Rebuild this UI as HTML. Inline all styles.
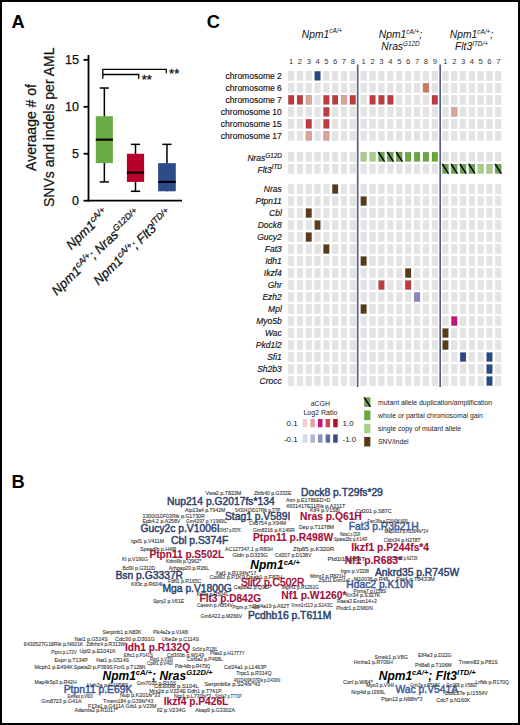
<!DOCTYPE html>
<html><head><meta charset="utf-8"><style>
html,body{margin:0;padding:0;background:#fff;}
svg{display:block;font-family:"Liberation Sans", sans-serif;}
</style></head><body>
<svg width="520" height="725" viewBox="0 0 520 725">
<rect x="0" y="0" width="520" height="725" fill="#fff"/>

<text x="11.6" y="27.6" font-size="18.3" font-weight="700" fill="#000">A</text>
<g stroke="#000" stroke-width="1.8" fill="none">
<line x1="88.5" y1="55" x2="88.5" y2="201.5"/>
<line x1="87.6" y1="200.7" x2="182" y2="200.7"/>
<line x1="83.5" y1="200.70" x2="88.5" y2="200.70"/>
<line x1="83.5" y1="153.75" x2="88.5" y2="153.75"/>
<line x1="83.5" y1="106.80" x2="88.5" y2="106.80"/>
<line x1="83.5" y1="59.85" x2="88.5" y2="59.85"/>
</g>
<text x="79" y="205.30" font-size="12.5" text-anchor="end" fill="#111" stroke="#111" stroke-width="0.25">0</text>
<text x="79" y="158.35" font-size="12.5" text-anchor="end" fill="#111" stroke="#111" stroke-width="0.25">5</text>
<text x="79" y="111.40" font-size="12.5" text-anchor="end" fill="#111" stroke="#111" stroke-width="0.25">10</text>
<text x="79" y="64.45" font-size="12.5" text-anchor="end" fill="#111" stroke="#111" stroke-width="0.25">15</text>
<g transform="translate(35.6,127.5) rotate(-90)"><text x="0" y="0" font-size="15.3" text-anchor="middle" fill="#111" stroke="#111" stroke-width="0.25" transform="scale(0.915,1)">Averaage # of</text></g>
<g transform="translate(54,127.3) rotate(-90)"><text x="0" y="0" font-size="15.3" text-anchor="middle" fill="#111" stroke="#111" stroke-width="0.25" transform="scale(0.915,1)">SNVs and indels per AML</text></g>
<line x1="104.35" y1="88.02" x2="104.35" y2="181.92" stroke="#000" stroke-width="1.5"/>
<line x1="99.75" y1="181.92" x2="108.95" y2="181.92" stroke="#000" stroke-width="1.5"/>
<line x1="99.75" y1="88.02" x2="108.95" y2="88.02" stroke="#000" stroke-width="1.5"/>
<rect x="95.8" y="116.19" width="17.10" height="46.95" fill="#6aab45"/>
<line x1="95.8" y1="139.66" x2="112.9" y2="139.66" stroke="#000" stroke-width="2.2"/>
<line x1="135.50" y1="144.36" x2="135.50" y2="191.31" stroke="#000" stroke-width="1.5"/>
<line x1="130.90" y1="191.31" x2="140.10" y2="191.31" stroke="#000" stroke-width="1.5"/>
<line x1="130.90" y1="144.36" x2="140.10" y2="144.36" stroke="#000" stroke-width="1.5"/>
<rect x="126.9" y="153.75" width="17.20" height="28.17" fill="#b7002b"/>
<line x1="126.9" y1="172.53" x2="144.1" y2="172.53" stroke="#000" stroke-width="2.2"/>
<line x1="166.95" y1="144.36" x2="166.95" y2="191.31" stroke="#000" stroke-width="1.5"/>
<line x1="162.35" y1="144.36" x2="171.55" y2="144.36" stroke="#000" stroke-width="1.5"/>
<rect x="158.1" y="163.14" width="17.70" height="28.17" fill="#2e4c8a"/>
<line x1="158.1" y1="181.92" x2="175.8" y2="181.92" stroke="#000" stroke-width="2.2"/>
<g stroke="#000" stroke-width="1.3" fill="none">
<polyline points="102.8,78.8 102.8,69.3 166.3,69.3 166.3,73.2"/>
<polyline points="102.8,74.5 138.7,74.5 138.7,78.8"/>
</g>
<text x="141.8" y="83.6" font-size="13" fill="#111" stroke="#111" stroke-width="0.3">**</text>
<text x="169.1" y="78.2" font-size="13" fill="#111" stroke="#111" stroke-width="0.3">**</text>
<g transform="translate(109,214) rotate(-44)"><text x="0" y="0" font-size="13" font-style="italic" text-anchor="end" fill="#111" stroke="#111" stroke-width="0.25">Npm1<tspan font-size="8.7" dy="-4.8">cA/+</tspan></text></g>
<g transform="translate(141,214.5) rotate(-44)"><text x="0" y="0" font-size="13" font-style="italic" text-anchor="end" fill="#111" stroke="#111" stroke-width="0.25">Npm1<tspan font-size="8.7" dy="-4.8">cA/+</tspan><tspan dy="4.8">; Nras</tspan><tspan font-size="8.7" dy="-4.8">G12D/+</tspan></text></g>
<g transform="translate(172.5,214.5) rotate(-44)"><text x="0" y="0" font-size="13" font-style="italic" text-anchor="end" fill="#111" stroke="#111" stroke-width="0.25">Npm1<tspan font-size="8.7" dy="-4.8">cA/+</tspan><tspan dy="4.8">; Flt3</tspan><tspan font-size="8.7" dy="-4.8">ITD/+</tspan></text></g>
<text x="206.8" y="27.6" font-size="18.3" font-weight="700" fill="#000">C</text>
<g>
<rect x="288.00" y="71.00" width="6.3" height="9.7" fill="#e3e3e3"/>
<rect x="296.80" y="71.00" width="6.3" height="9.7" fill="#e3e3e3"/>
<rect x="305.60" y="71.00" width="6.3" height="9.7" fill="#e3e3e3"/>
<rect x="314.70" y="71.30" width="5.70" height="9.10" fill="#254a87" stroke="rgba(0,0,0,0.22)" stroke-width="0.6"/>
<rect x="323.20" y="71.00" width="6.3" height="9.7" fill="#e3e3e3"/>
<rect x="332.00" y="71.00" width="6.3" height="9.7" fill="#e3e3e3"/>
<rect x="340.80" y="71.00" width="6.3" height="9.7" fill="#e3e3e3"/>
<rect x="349.60" y="71.00" width="6.3" height="9.7" fill="#e3e3e3"/>
<rect x="360.50" y="71.00" width="6.3" height="9.7" fill="#e3e3e3"/>
<rect x="369.40" y="71.00" width="6.3" height="9.7" fill="#e3e3e3"/>
<rect x="378.30" y="71.00" width="6.3" height="9.7" fill="#e3e3e3"/>
<rect x="387.20" y="71.00" width="6.3" height="9.7" fill="#e3e3e3"/>
<rect x="396.10" y="71.00" width="6.3" height="9.7" fill="#e3e3e3"/>
<rect x="405.00" y="71.00" width="6.3" height="9.7" fill="#e3e3e3"/>
<rect x="413.90" y="71.00" width="6.3" height="9.7" fill="#e3e3e3"/>
<rect x="422.80" y="71.00" width="6.3" height="9.7" fill="#e3e3e3"/>
<rect x="431.70" y="71.00" width="6.3" height="9.7" fill="#e3e3e3"/>
<rect x="442.30" y="71.00" width="6.3" height="9.7" fill="#e3e3e3"/>
<rect x="451.10" y="71.00" width="6.3" height="9.7" fill="#e3e3e3"/>
<rect x="459.90" y="71.00" width="6.3" height="9.7" fill="#e3e3e3"/>
<rect x="468.70" y="71.00" width="6.3" height="9.7" fill="#e3e3e3"/>
<rect x="477.50" y="71.00" width="6.3" height="9.7" fill="#e3e3e3"/>
<rect x="486.30" y="71.00" width="6.3" height="9.7" fill="#e3e3e3"/>
<rect x="495.10" y="71.00" width="6.3" height="9.7" fill="#e3e3e3"/>
<rect x="288.00" y="83.00" width="6.3" height="9.7" fill="#e3e3e3"/>
<rect x="296.80" y="83.00" width="6.3" height="9.7" fill="#e3e3e3"/>
<rect x="305.60" y="83.00" width="6.3" height="9.7" fill="#e3e3e3"/>
<rect x="314.40" y="83.00" width="6.3" height="9.7" fill="#e3e3e3"/>
<rect x="323.20" y="83.00" width="6.3" height="9.7" fill="#e3e3e3"/>
<rect x="332.00" y="83.00" width="6.3" height="9.7" fill="#e3e3e3"/>
<rect x="340.80" y="83.00" width="6.3" height="9.7" fill="#e3e3e3"/>
<rect x="349.60" y="83.00" width="6.3" height="9.7" fill="#e3e3e3"/>
<rect x="360.50" y="83.00" width="6.3" height="9.7" fill="#e3e3e3"/>
<rect x="369.40" y="83.00" width="6.3" height="9.7" fill="#e3e3e3"/>
<rect x="378.30" y="83.00" width="6.3" height="9.7" fill="#e3e3e3"/>
<rect x="387.20" y="83.00" width="6.3" height="9.7" fill="#e3e3e3"/>
<rect x="396.10" y="83.00" width="6.3" height="9.7" fill="#e3e3e3"/>
<rect x="405.00" y="83.00" width="6.3" height="9.7" fill="#e3e3e3"/>
<rect x="413.90" y="83.00" width="6.3" height="9.7" fill="#e3e3e3"/>
<rect x="423.10" y="83.30" width="5.70" height="9.10" fill="#d2765f" stroke="rgba(0,0,0,0.22)" stroke-width="0.6"/>
<rect x="431.70" y="83.00" width="6.3" height="9.7" fill="#e3e3e3"/>
<rect x="442.30" y="83.00" width="6.3" height="9.7" fill="#e3e3e3"/>
<rect x="451.10" y="83.00" width="6.3" height="9.7" fill="#e3e3e3"/>
<rect x="459.90" y="83.00" width="6.3" height="9.7" fill="#e3e3e3"/>
<rect x="468.70" y="83.00" width="6.3" height="9.7" fill="#e3e3e3"/>
<rect x="477.50" y="83.00" width="6.3" height="9.7" fill="#e3e3e3"/>
<rect x="486.30" y="83.00" width="6.3" height="9.7" fill="#e3e3e3"/>
<rect x="495.10" y="83.00" width="6.3" height="9.7" fill="#e3e3e3"/>
<rect x="288.30" y="95.30" width="5.70" height="9.10" fill="#c13a3d" stroke="rgba(0,0,0,0.22)" stroke-width="0.6"/>
<rect x="297.10" y="95.30" width="5.70" height="9.10" fill="#c13a3d" stroke="rgba(0,0,0,0.22)" stroke-width="0.6"/>
<rect x="305.90" y="95.30" width="5.70" height="9.10" fill="#daa496" stroke="rgba(0,0,0,0.22)" stroke-width="0.6"/>
<rect x="314.40" y="95.00" width="6.3" height="9.7" fill="#e3e3e3"/>
<rect x="323.50" y="95.30" width="5.70" height="9.10" fill="#c13a3d" stroke="rgba(0,0,0,0.22)" stroke-width="0.6"/>
<rect x="332.30" y="95.30" width="5.70" height="9.10" fill="#c13a3d" stroke="rgba(0,0,0,0.22)" stroke-width="0.6"/>
<rect x="341.10" y="95.30" width="5.70" height="9.10" fill="#daa496" stroke="rgba(0,0,0,0.22)" stroke-width="0.6"/>
<rect x="349.90" y="95.30" width="5.70" height="9.10" fill="#c13a3d" stroke="rgba(0,0,0,0.22)" stroke-width="0.6"/>
<rect x="360.50" y="95.00" width="6.3" height="9.7" fill="#e3e3e3"/>
<rect x="369.70" y="95.30" width="5.70" height="9.10" fill="#c13a3d" stroke="rgba(0,0,0,0.22)" stroke-width="0.6"/>
<rect x="378.60" y="95.30" width="5.70" height="9.10" fill="#c13a3d" stroke="rgba(0,0,0,0.22)" stroke-width="0.6"/>
<rect x="387.50" y="95.30" width="5.70" height="9.10" fill="#c13a3d" stroke="rgba(0,0,0,0.22)" stroke-width="0.6"/>
<rect x="396.10" y="95.00" width="6.3" height="9.7" fill="#e3e3e3"/>
<rect x="405.00" y="95.00" width="6.3" height="9.7" fill="#e3e3e3"/>
<rect x="413.90" y="95.00" width="6.3" height="9.7" fill="#e3e3e3"/>
<rect x="422.80" y="95.00" width="6.3" height="9.7" fill="#e3e3e3"/>
<rect x="432.00" y="95.30" width="5.70" height="9.10" fill="#c13a3d" stroke="rgba(0,0,0,0.22)" stroke-width="0.6"/>
<rect x="442.30" y="95.00" width="6.3" height="9.7" fill="#e3e3e3"/>
<rect x="451.10" y="95.00" width="6.3" height="9.7" fill="#e3e3e3"/>
<rect x="459.90" y="95.00" width="6.3" height="9.7" fill="#e3e3e3"/>
<rect x="468.70" y="95.00" width="6.3" height="9.7" fill="#e3e3e3"/>
<rect x="477.50" y="95.00" width="6.3" height="9.7" fill="#e3e3e3"/>
<rect x="486.30" y="95.00" width="6.3" height="9.7" fill="#e3e3e3"/>
<rect x="495.10" y="95.00" width="6.3" height="9.7" fill="#e3e3e3"/>
<rect x="288.00" y="107.00" width="6.3" height="9.7" fill="#e3e3e3"/>
<rect x="296.80" y="107.00" width="6.3" height="9.7" fill="#e3e3e3"/>
<rect x="305.60" y="107.00" width="6.3" height="9.7" fill="#e3e3e3"/>
<rect x="314.40" y="107.00" width="6.3" height="9.7" fill="#e3e3e3"/>
<rect x="323.50" y="107.30" width="5.70" height="9.10" fill="#c13a3d" stroke="rgba(0,0,0,0.22)" stroke-width="0.6"/>
<rect x="332.00" y="107.00" width="6.3" height="9.7" fill="#e3e3e3"/>
<rect x="340.80" y="107.00" width="6.3" height="9.7" fill="#e3e3e3"/>
<rect x="349.60" y="107.00" width="6.3" height="9.7" fill="#e3e3e3"/>
<rect x="360.50" y="107.00" width="6.3" height="9.7" fill="#e3e3e3"/>
<rect x="369.40" y="107.00" width="6.3" height="9.7" fill="#e3e3e3"/>
<rect x="378.30" y="107.00" width="6.3" height="9.7" fill="#e3e3e3"/>
<rect x="387.20" y="107.00" width="6.3" height="9.7" fill="#e3e3e3"/>
<rect x="396.10" y="107.00" width="6.3" height="9.7" fill="#e3e3e3"/>
<rect x="405.00" y="107.00" width="6.3" height="9.7" fill="#e3e3e3"/>
<rect x="413.90" y="107.00" width="6.3" height="9.7" fill="#e3e3e3"/>
<rect x="422.80" y="107.00" width="6.3" height="9.7" fill="#e3e3e3"/>
<rect x="431.70" y="107.00" width="6.3" height="9.7" fill="#e3e3e3"/>
<rect x="442.30" y="107.00" width="6.3" height="9.7" fill="#e3e3e3"/>
<rect x="451.40" y="107.30" width="5.70" height="9.10" fill="#daa496" stroke="rgba(0,0,0,0.22)" stroke-width="0.6"/>
<rect x="459.90" y="107.00" width="6.3" height="9.7" fill="#e3e3e3"/>
<rect x="468.70" y="107.00" width="6.3" height="9.7" fill="#e3e3e3"/>
<rect x="477.50" y="107.00" width="6.3" height="9.7" fill="#e3e3e3"/>
<rect x="486.30" y="107.00" width="6.3" height="9.7" fill="#e3e3e3"/>
<rect x="495.10" y="107.00" width="6.3" height="9.7" fill="#e3e3e3"/>
<rect x="288.00" y="119.00" width="6.3" height="9.7" fill="#e3e3e3"/>
<rect x="296.80" y="119.00" width="6.3" height="9.7" fill="#e3e3e3"/>
<rect x="305.90" y="119.30" width="5.70" height="9.10" fill="#c13a3d" stroke="rgba(0,0,0,0.22)" stroke-width="0.6"/>
<rect x="314.40" y="119.00" width="6.3" height="9.7" fill="#e3e3e3"/>
<rect x="323.50" y="119.30" width="5.70" height="9.10" fill="#c13a3d" stroke="rgba(0,0,0,0.22)" stroke-width="0.6"/>
<rect x="332.00" y="119.00" width="6.3" height="9.7" fill="#e3e3e3"/>
<rect x="340.80" y="119.00" width="6.3" height="9.7" fill="#e3e3e3"/>
<rect x="349.60" y="119.00" width="6.3" height="9.7" fill="#e3e3e3"/>
<rect x="360.50" y="119.00" width="6.3" height="9.7" fill="#e3e3e3"/>
<rect x="369.40" y="119.00" width="6.3" height="9.7" fill="#e3e3e3"/>
<rect x="378.30" y="119.00" width="6.3" height="9.7" fill="#e3e3e3"/>
<rect x="387.20" y="119.00" width="6.3" height="9.7" fill="#e3e3e3"/>
<rect x="396.10" y="119.00" width="6.3" height="9.7" fill="#e3e3e3"/>
<rect x="405.00" y="119.00" width="6.3" height="9.7" fill="#e3e3e3"/>
<rect x="413.90" y="119.00" width="6.3" height="9.7" fill="#e3e3e3"/>
<rect x="422.80" y="119.00" width="6.3" height="9.7" fill="#e3e3e3"/>
<rect x="431.70" y="119.00" width="6.3" height="9.7" fill="#e3e3e3"/>
<rect x="442.30" y="119.00" width="6.3" height="9.7" fill="#e3e3e3"/>
<rect x="451.10" y="119.00" width="6.3" height="9.7" fill="#e3e3e3"/>
<rect x="459.90" y="119.00" width="6.3" height="9.7" fill="#e3e3e3"/>
<rect x="468.70" y="119.00" width="6.3" height="9.7" fill="#e3e3e3"/>
<rect x="477.50" y="119.00" width="6.3" height="9.7" fill="#e3e3e3"/>
<rect x="486.30" y="119.00" width="6.3" height="9.7" fill="#e3e3e3"/>
<rect x="495.10" y="119.00" width="6.3" height="9.7" fill="#e3e3e3"/>
<rect x="288.00" y="131.00" width="6.3" height="9.7" fill="#e3e3e3"/>
<rect x="296.80" y="131.00" width="6.3" height="9.7" fill="#e3e3e3"/>
<rect x="305.90" y="131.30" width="5.70" height="9.10" fill="#daa496" stroke="rgba(0,0,0,0.22)" stroke-width="0.6"/>
<rect x="314.40" y="131.00" width="6.3" height="9.7" fill="#e3e3e3"/>
<rect x="323.50" y="131.30" width="5.70" height="9.10" fill="#daa496" stroke="rgba(0,0,0,0.22)" stroke-width="0.6"/>
<rect x="332.00" y="131.00" width="6.3" height="9.7" fill="#e3e3e3"/>
<rect x="340.80" y="131.00" width="6.3" height="9.7" fill="#e3e3e3"/>
<rect x="349.60" y="131.00" width="6.3" height="9.7" fill="#e3e3e3"/>
<rect x="360.50" y="131.00" width="6.3" height="9.7" fill="#e3e3e3"/>
<rect x="369.40" y="131.00" width="6.3" height="9.7" fill="#e3e3e3"/>
<rect x="378.30" y="131.00" width="6.3" height="9.7" fill="#e3e3e3"/>
<rect x="387.20" y="131.00" width="6.3" height="9.7" fill="#e3e3e3"/>
<rect x="396.10" y="131.00" width="6.3" height="9.7" fill="#e3e3e3"/>
<rect x="405.00" y="131.00" width="6.3" height="9.7" fill="#e3e3e3"/>
<rect x="413.90" y="131.00" width="6.3" height="9.7" fill="#e3e3e3"/>
<rect x="422.80" y="131.00" width="6.3" height="9.7" fill="#e3e3e3"/>
<rect x="431.70" y="131.00" width="6.3" height="9.7" fill="#e3e3e3"/>
<rect x="442.30" y="131.00" width="6.3" height="9.7" fill="#e3e3e3"/>
<rect x="451.10" y="131.00" width="6.3" height="9.7" fill="#e3e3e3"/>
<rect x="459.90" y="131.00" width="6.3" height="9.7" fill="#e3e3e3"/>
<rect x="468.70" y="131.00" width="6.3" height="9.7" fill="#e3e3e3"/>
<rect x="477.50" y="131.00" width="6.3" height="9.7" fill="#e3e3e3"/>
<rect x="486.30" y="131.00" width="6.3" height="9.7" fill="#e3e3e3"/>
<rect x="495.10" y="131.00" width="6.3" height="9.7" fill="#e3e3e3"/>
<rect x="288.00" y="152.00" width="6.3" height="9.7" fill="#e3e3e3"/>
<rect x="296.80" y="152.00" width="6.3" height="9.7" fill="#e3e3e3"/>
<rect x="305.60" y="152.00" width="6.3" height="9.7" fill="#e3e3e3"/>
<rect x="314.40" y="152.00" width="6.3" height="9.7" fill="#e3e3e3"/>
<rect x="323.20" y="152.00" width="6.3" height="9.7" fill="#e3e3e3"/>
<rect x="332.00" y="152.00" width="6.3" height="9.7" fill="#e3e3e3"/>
<rect x="340.80" y="152.00" width="6.3" height="9.7" fill="#e3e3e3"/>
<rect x="349.60" y="152.00" width="6.3" height="9.7" fill="#e3e3e3"/>
<rect x="360.80" y="152.30" width="5.70" height="9.10" fill="#a9cf84" stroke="rgba(0,0,0,0.22)" stroke-width="0.6"/>
<rect x="369.70" y="152.30" width="5.70" height="9.10" fill="#a9cf84" stroke="rgba(0,0,0,0.22)" stroke-width="0.6"/>
<rect x="378.30" y="152.00" width="6.3" height="9.7" fill="#6e9f55"/>
<line x1="378.30" y1="152.00" x2="384.60" y2="161.70" stroke="#000" stroke-width="1.4"/>
<rect x="387.20" y="152.00" width="6.3" height="9.7" fill="#6e9f55"/>
<line x1="387.20" y1="152.00" x2="393.50" y2="161.70" stroke="#000" stroke-width="1.4"/>
<rect x="396.10" y="152.00" width="6.3" height="9.7" fill="#6e9f55"/>
<line x1="396.10" y1="152.00" x2="402.40" y2="161.70" stroke="#000" stroke-width="1.4"/>
<rect x="405.30" y="152.30" width="5.70" height="9.10" fill="#68a83d" stroke="rgba(0,0,0,0.22)" stroke-width="0.6"/>
<rect x="414.20" y="152.30" width="5.70" height="9.10" fill="#68a83d" stroke="rgba(0,0,0,0.22)" stroke-width="0.6"/>
<rect x="423.10" y="152.30" width="5.70" height="9.10" fill="#68a83d" stroke="rgba(0,0,0,0.22)" stroke-width="0.6"/>
<rect x="432.00" y="152.30" width="5.70" height="9.10" fill="#68a83d" stroke="rgba(0,0,0,0.22)" stroke-width="0.6"/>
<rect x="442.30" y="152.00" width="6.3" height="9.7" fill="#e3e3e3"/>
<rect x="451.10" y="152.00" width="6.3" height="9.7" fill="#e3e3e3"/>
<rect x="459.90" y="152.00" width="6.3" height="9.7" fill="#e3e3e3"/>
<rect x="468.70" y="152.00" width="6.3" height="9.7" fill="#e3e3e3"/>
<rect x="477.50" y="152.00" width="6.3" height="9.7" fill="#e3e3e3"/>
<rect x="486.30" y="152.00" width="6.3" height="9.7" fill="#e3e3e3"/>
<rect x="495.10" y="152.00" width="6.3" height="9.7" fill="#e3e3e3"/>
<rect x="288.00" y="164.00" width="6.3" height="9.7" fill="#e3e3e3"/>
<rect x="296.80" y="164.00" width="6.3" height="9.7" fill="#e3e3e3"/>
<rect x="305.60" y="164.00" width="6.3" height="9.7" fill="#e3e3e3"/>
<rect x="314.40" y="164.00" width="6.3" height="9.7" fill="#e3e3e3"/>
<rect x="323.20" y="164.00" width="6.3" height="9.7" fill="#e3e3e3"/>
<rect x="332.00" y="164.00" width="6.3" height="9.7" fill="#e3e3e3"/>
<rect x="340.80" y="164.00" width="6.3" height="9.7" fill="#e3e3e3"/>
<rect x="349.60" y="164.00" width="6.3" height="9.7" fill="#e3e3e3"/>
<rect x="360.50" y="164.00" width="6.3" height="9.7" fill="#e3e3e3"/>
<rect x="369.40" y="164.00" width="6.3" height="9.7" fill="#e3e3e3"/>
<rect x="378.30" y="164.00" width="6.3" height="9.7" fill="#e3e3e3"/>
<rect x="387.20" y="164.00" width="6.3" height="9.7" fill="#e3e3e3"/>
<rect x="396.10" y="164.00" width="6.3" height="9.7" fill="#e3e3e3"/>
<rect x="405.00" y="164.00" width="6.3" height="9.7" fill="#e3e3e3"/>
<rect x="413.90" y="164.00" width="6.3" height="9.7" fill="#e3e3e3"/>
<rect x="422.80" y="164.00" width="6.3" height="9.7" fill="#e3e3e3"/>
<rect x="431.70" y="164.00" width="6.3" height="9.7" fill="#e3e3e3"/>
<rect x="442.30" y="164.00" width="6.3" height="9.7" fill="#6e9f55"/>
<line x1="442.30" y1="164.00" x2="448.60" y2="173.70" stroke="#000" stroke-width="1.4"/>
<rect x="451.10" y="164.00" width="6.3" height="9.7" fill="#6e9f55"/>
<line x1="451.10" y1="164.00" x2="457.40" y2="173.70" stroke="#000" stroke-width="1.4"/>
<rect x="459.90" y="164.00" width="6.3" height="9.7" fill="#6e9f55"/>
<line x1="459.90" y1="164.00" x2="466.20" y2="173.70" stroke="#000" stroke-width="1.4"/>
<rect x="468.70" y="164.00" width="6.3" height="9.7" fill="#6e9f55"/>
<line x1="468.70" y1="164.00" x2="475.00" y2="173.70" stroke="#000" stroke-width="1.4"/>
<rect x="477.80" y="164.30" width="5.70" height="9.10" fill="#a9cf84" stroke="rgba(0,0,0,0.22)" stroke-width="0.6"/>
<rect x="486.60" y="164.30" width="5.70" height="9.10" fill="#a9cf84" stroke="rgba(0,0,0,0.22)" stroke-width="0.6"/>
<rect x="495.10" y="164.00" width="6.3" height="9.7" fill="#6e9f55"/>
<line x1="495.10" y1="164.00" x2="501.40" y2="173.70" stroke="#000" stroke-width="1.4"/>
<rect x="288.00" y="184.20" width="6.3" height="9.7" fill="#e3e3e3"/>
<rect x="296.80" y="184.20" width="6.3" height="9.7" fill="#e3e3e3"/>
<rect x="305.60" y="184.20" width="6.3" height="9.7" fill="#e3e3e3"/>
<rect x="314.40" y="184.20" width="6.3" height="9.7" fill="#e3e3e3"/>
<rect x="323.20" y="184.20" width="6.3" height="9.7" fill="#e3e3e3"/>
<rect x="332.30" y="184.50" width="5.70" height="9.10" fill="#5a3b16" stroke="rgba(0,0,0,0.22)" stroke-width="0.6"/>
<rect x="340.80" y="184.20" width="6.3" height="9.7" fill="#e3e3e3"/>
<rect x="349.60" y="184.20" width="6.3" height="9.7" fill="#e3e3e3"/>
<rect x="360.50" y="184.20" width="6.3" height="9.7" fill="#e3e3e3"/>
<rect x="369.40" y="184.20" width="6.3" height="9.7" fill="#e3e3e3"/>
<rect x="378.30" y="184.20" width="6.3" height="9.7" fill="#e3e3e3"/>
<rect x="387.20" y="184.20" width="6.3" height="9.7" fill="#e3e3e3"/>
<rect x="396.10" y="184.20" width="6.3" height="9.7" fill="#e3e3e3"/>
<rect x="405.00" y="184.20" width="6.3" height="9.7" fill="#e3e3e3"/>
<rect x="413.90" y="184.20" width="6.3" height="9.7" fill="#e3e3e3"/>
<rect x="422.80" y="184.20" width="6.3" height="9.7" fill="#e3e3e3"/>
<rect x="431.70" y="184.20" width="6.3" height="9.7" fill="#e3e3e3"/>
<rect x="442.30" y="184.20" width="6.3" height="9.7" fill="#e3e3e3"/>
<rect x="451.10" y="184.20" width="6.3" height="9.7" fill="#e3e3e3"/>
<rect x="459.90" y="184.20" width="6.3" height="9.7" fill="#e3e3e3"/>
<rect x="468.70" y="184.20" width="6.3" height="9.7" fill="#e3e3e3"/>
<rect x="477.50" y="184.20" width="6.3" height="9.7" fill="#e3e3e3"/>
<rect x="486.30" y="184.20" width="6.3" height="9.7" fill="#e3e3e3"/>
<rect x="495.10" y="184.20" width="6.3" height="9.7" fill="#e3e3e3"/>
<rect x="288.00" y="196.20" width="6.3" height="9.7" fill="#e3e3e3"/>
<rect x="296.80" y="196.20" width="6.3" height="9.7" fill="#e3e3e3"/>
<rect x="305.60" y="196.20" width="6.3" height="9.7" fill="#e3e3e3"/>
<rect x="314.40" y="196.20" width="6.3" height="9.7" fill="#e3e3e3"/>
<rect x="323.20" y="196.20" width="6.3" height="9.7" fill="#e3e3e3"/>
<rect x="332.00" y="196.20" width="6.3" height="9.7" fill="#e3e3e3"/>
<rect x="340.80" y="196.20" width="6.3" height="9.7" fill="#e3e3e3"/>
<rect x="349.60" y="196.20" width="6.3" height="9.7" fill="#e3e3e3"/>
<rect x="360.80" y="196.50" width="5.70" height="9.10" fill="#5a3b16" stroke="rgba(0,0,0,0.22)" stroke-width="0.6"/>
<rect x="369.40" y="196.20" width="6.3" height="9.7" fill="#e3e3e3"/>
<rect x="378.30" y="196.20" width="6.3" height="9.7" fill="#e3e3e3"/>
<rect x="387.20" y="196.20" width="6.3" height="9.7" fill="#e3e3e3"/>
<rect x="396.10" y="196.20" width="6.3" height="9.7" fill="#e3e3e3"/>
<rect x="405.00" y="196.20" width="6.3" height="9.7" fill="#e3e3e3"/>
<rect x="413.90" y="196.20" width="6.3" height="9.7" fill="#e3e3e3"/>
<rect x="422.80" y="196.20" width="6.3" height="9.7" fill="#e3e3e3"/>
<rect x="431.70" y="196.20" width="6.3" height="9.7" fill="#e3e3e3"/>
<rect x="442.30" y="196.20" width="6.3" height="9.7" fill="#e3e3e3"/>
<rect x="451.10" y="196.20" width="6.3" height="9.7" fill="#e3e3e3"/>
<rect x="459.90" y="196.20" width="6.3" height="9.7" fill="#e3e3e3"/>
<rect x="468.70" y="196.20" width="6.3" height="9.7" fill="#e3e3e3"/>
<rect x="477.50" y="196.20" width="6.3" height="9.7" fill="#e3e3e3"/>
<rect x="486.30" y="196.20" width="6.3" height="9.7" fill="#e3e3e3"/>
<rect x="495.10" y="196.20" width="6.3" height="9.7" fill="#e3e3e3"/>
<rect x="288.00" y="208.20" width="6.3" height="9.7" fill="#e3e3e3"/>
<rect x="296.80" y="208.20" width="6.3" height="9.7" fill="#e3e3e3"/>
<rect x="305.90" y="208.50" width="5.70" height="9.10" fill="#5a3b16" stroke="rgba(0,0,0,0.22)" stroke-width="0.6"/>
<rect x="314.40" y="208.20" width="6.3" height="9.7" fill="#e3e3e3"/>
<rect x="323.20" y="208.20" width="6.3" height="9.7" fill="#e3e3e3"/>
<rect x="332.00" y="208.20" width="6.3" height="9.7" fill="#e3e3e3"/>
<rect x="340.80" y="208.20" width="6.3" height="9.7" fill="#e3e3e3"/>
<rect x="349.60" y="208.20" width="6.3" height="9.7" fill="#e3e3e3"/>
<rect x="360.50" y="208.20" width="6.3" height="9.7" fill="#e3e3e3"/>
<rect x="369.40" y="208.20" width="6.3" height="9.7" fill="#e3e3e3"/>
<rect x="378.30" y="208.20" width="6.3" height="9.7" fill="#e3e3e3"/>
<rect x="387.20" y="208.20" width="6.3" height="9.7" fill="#e3e3e3"/>
<rect x="396.10" y="208.20" width="6.3" height="9.7" fill="#e3e3e3"/>
<rect x="405.00" y="208.20" width="6.3" height="9.7" fill="#e3e3e3"/>
<rect x="413.90" y="208.20" width="6.3" height="9.7" fill="#e3e3e3"/>
<rect x="422.80" y="208.20" width="6.3" height="9.7" fill="#e3e3e3"/>
<rect x="431.70" y="208.20" width="6.3" height="9.7" fill="#e3e3e3"/>
<rect x="442.30" y="208.20" width="6.3" height="9.7" fill="#e3e3e3"/>
<rect x="451.10" y="208.20" width="6.3" height="9.7" fill="#e3e3e3"/>
<rect x="459.90" y="208.20" width="6.3" height="9.7" fill="#e3e3e3"/>
<rect x="468.70" y="208.20" width="6.3" height="9.7" fill="#e3e3e3"/>
<rect x="477.50" y="208.20" width="6.3" height="9.7" fill="#e3e3e3"/>
<rect x="486.30" y="208.20" width="6.3" height="9.7" fill="#e3e3e3"/>
<rect x="495.10" y="208.20" width="6.3" height="9.7" fill="#e3e3e3"/>
<rect x="288.00" y="220.20" width="6.3" height="9.7" fill="#e3e3e3"/>
<rect x="296.80" y="220.20" width="6.3" height="9.7" fill="#e3e3e3"/>
<rect x="305.60" y="220.20" width="6.3" height="9.7" fill="#e3e3e3"/>
<rect x="314.70" y="220.50" width="5.70" height="9.10" fill="#5a3b16" stroke="rgba(0,0,0,0.22)" stroke-width="0.6"/>
<rect x="323.20" y="220.20" width="6.3" height="9.7" fill="#e3e3e3"/>
<rect x="332.00" y="220.20" width="6.3" height="9.7" fill="#e3e3e3"/>
<rect x="340.80" y="220.20" width="6.3" height="9.7" fill="#e3e3e3"/>
<rect x="349.60" y="220.20" width="6.3" height="9.7" fill="#e3e3e3"/>
<rect x="360.50" y="220.20" width="6.3" height="9.7" fill="#e3e3e3"/>
<rect x="369.40" y="220.20" width="6.3" height="9.7" fill="#e3e3e3"/>
<rect x="378.30" y="220.20" width="6.3" height="9.7" fill="#e3e3e3"/>
<rect x="387.20" y="220.20" width="6.3" height="9.7" fill="#e3e3e3"/>
<rect x="396.10" y="220.20" width="6.3" height="9.7" fill="#e3e3e3"/>
<rect x="405.00" y="220.20" width="6.3" height="9.7" fill="#e3e3e3"/>
<rect x="413.90" y="220.20" width="6.3" height="9.7" fill="#e3e3e3"/>
<rect x="422.80" y="220.20" width="6.3" height="9.7" fill="#e3e3e3"/>
<rect x="431.70" y="220.20" width="6.3" height="9.7" fill="#e3e3e3"/>
<rect x="442.30" y="220.20" width="6.3" height="9.7" fill="#e3e3e3"/>
<rect x="451.10" y="220.20" width="6.3" height="9.7" fill="#e3e3e3"/>
<rect x="459.90" y="220.20" width="6.3" height="9.7" fill="#e3e3e3"/>
<rect x="468.70" y="220.20" width="6.3" height="9.7" fill="#e3e3e3"/>
<rect x="477.50" y="220.20" width="6.3" height="9.7" fill="#e3e3e3"/>
<rect x="486.30" y="220.20" width="6.3" height="9.7" fill="#e3e3e3"/>
<rect x="495.10" y="220.20" width="6.3" height="9.7" fill="#e3e3e3"/>
<rect x="288.00" y="232.20" width="6.3" height="9.7" fill="#e3e3e3"/>
<rect x="296.80" y="232.20" width="6.3" height="9.7" fill="#e3e3e3"/>
<rect x="305.90" y="232.50" width="5.70" height="9.10" fill="#5a3b16" stroke="rgba(0,0,0,0.22)" stroke-width="0.6"/>
<rect x="314.40" y="232.20" width="6.3" height="9.7" fill="#e3e3e3"/>
<rect x="323.20" y="232.20" width="6.3" height="9.7" fill="#e3e3e3"/>
<rect x="332.00" y="232.20" width="6.3" height="9.7" fill="#e3e3e3"/>
<rect x="340.80" y="232.20" width="6.3" height="9.7" fill="#e3e3e3"/>
<rect x="349.60" y="232.20" width="6.3" height="9.7" fill="#e3e3e3"/>
<rect x="360.50" y="232.20" width="6.3" height="9.7" fill="#e3e3e3"/>
<rect x="369.40" y="232.20" width="6.3" height="9.7" fill="#e3e3e3"/>
<rect x="378.30" y="232.20" width="6.3" height="9.7" fill="#e3e3e3"/>
<rect x="387.20" y="232.20" width="6.3" height="9.7" fill="#e3e3e3"/>
<rect x="396.10" y="232.20" width="6.3" height="9.7" fill="#e3e3e3"/>
<rect x="405.00" y="232.20" width="6.3" height="9.7" fill="#e3e3e3"/>
<rect x="413.90" y="232.20" width="6.3" height="9.7" fill="#e3e3e3"/>
<rect x="422.80" y="232.20" width="6.3" height="9.7" fill="#e3e3e3"/>
<rect x="431.70" y="232.20" width="6.3" height="9.7" fill="#e3e3e3"/>
<rect x="442.30" y="232.20" width="6.3" height="9.7" fill="#e3e3e3"/>
<rect x="451.10" y="232.20" width="6.3" height="9.7" fill="#e3e3e3"/>
<rect x="459.90" y="232.20" width="6.3" height="9.7" fill="#e3e3e3"/>
<rect x="468.70" y="232.20" width="6.3" height="9.7" fill="#e3e3e3"/>
<rect x="477.50" y="232.20" width="6.3" height="9.7" fill="#e3e3e3"/>
<rect x="486.30" y="232.20" width="6.3" height="9.7" fill="#e3e3e3"/>
<rect x="495.10" y="232.20" width="6.3" height="9.7" fill="#e3e3e3"/>
<rect x="288.00" y="244.20" width="6.3" height="9.7" fill="#e3e3e3"/>
<rect x="296.80" y="244.20" width="6.3" height="9.7" fill="#e3e3e3"/>
<rect x="305.60" y="244.20" width="6.3" height="9.7" fill="#e3e3e3"/>
<rect x="314.40" y="244.20" width="6.3" height="9.7" fill="#e3e3e3"/>
<rect x="323.50" y="244.50" width="5.70" height="9.10" fill="#5a3b16" stroke="rgba(0,0,0,0.22)" stroke-width="0.6"/>
<rect x="332.00" y="244.20" width="6.3" height="9.7" fill="#e3e3e3"/>
<rect x="340.80" y="244.20" width="6.3" height="9.7" fill="#e3e3e3"/>
<rect x="349.60" y="244.20" width="6.3" height="9.7" fill="#e3e3e3"/>
<rect x="360.50" y="244.20" width="6.3" height="9.7" fill="#e3e3e3"/>
<rect x="369.40" y="244.20" width="6.3" height="9.7" fill="#e3e3e3"/>
<rect x="378.30" y="244.20" width="6.3" height="9.7" fill="#e3e3e3"/>
<rect x="387.20" y="244.20" width="6.3" height="9.7" fill="#e3e3e3"/>
<rect x="396.10" y="244.20" width="6.3" height="9.7" fill="#e3e3e3"/>
<rect x="405.00" y="244.20" width="6.3" height="9.7" fill="#e3e3e3"/>
<rect x="413.90" y="244.20" width="6.3" height="9.7" fill="#e3e3e3"/>
<rect x="422.80" y="244.20" width="6.3" height="9.7" fill="#e3e3e3"/>
<rect x="431.70" y="244.20" width="6.3" height="9.7" fill="#e3e3e3"/>
<rect x="442.30" y="244.20" width="6.3" height="9.7" fill="#e3e3e3"/>
<rect x="451.10" y="244.20" width="6.3" height="9.7" fill="#e3e3e3"/>
<rect x="459.90" y="244.20" width="6.3" height="9.7" fill="#e3e3e3"/>
<rect x="468.70" y="244.20" width="6.3" height="9.7" fill="#e3e3e3"/>
<rect x="477.50" y="244.20" width="6.3" height="9.7" fill="#e3e3e3"/>
<rect x="486.30" y="244.20" width="6.3" height="9.7" fill="#e3e3e3"/>
<rect x="495.10" y="244.20" width="6.3" height="9.7" fill="#e3e3e3"/>
<rect x="288.00" y="256.20" width="6.3" height="9.7" fill="#e3e3e3"/>
<rect x="296.80" y="256.20" width="6.3" height="9.7" fill="#e3e3e3"/>
<rect x="305.60" y="256.20" width="6.3" height="9.7" fill="#e3e3e3"/>
<rect x="314.40" y="256.20" width="6.3" height="9.7" fill="#e3e3e3"/>
<rect x="323.20" y="256.20" width="6.3" height="9.7" fill="#e3e3e3"/>
<rect x="332.00" y="256.20" width="6.3" height="9.7" fill="#e3e3e3"/>
<rect x="340.80" y="256.20" width="6.3" height="9.7" fill="#e3e3e3"/>
<rect x="349.60" y="256.20" width="6.3" height="9.7" fill="#e3e3e3"/>
<rect x="360.80" y="256.50" width="5.70" height="9.10" fill="#5a3b16" stroke="rgba(0,0,0,0.22)" stroke-width="0.6"/>
<rect x="369.40" y="256.20" width="6.3" height="9.7" fill="#e3e3e3"/>
<rect x="378.30" y="256.20" width="6.3" height="9.7" fill="#e3e3e3"/>
<rect x="387.20" y="256.20" width="6.3" height="9.7" fill="#e3e3e3"/>
<rect x="396.10" y="256.20" width="6.3" height="9.7" fill="#e3e3e3"/>
<rect x="405.00" y="256.20" width="6.3" height="9.7" fill="#e3e3e3"/>
<rect x="413.90" y="256.20" width="6.3" height="9.7" fill="#e3e3e3"/>
<rect x="422.80" y="256.20" width="6.3" height="9.7" fill="#e3e3e3"/>
<rect x="431.70" y="256.20" width="6.3" height="9.7" fill="#e3e3e3"/>
<rect x="442.30" y="256.20" width="6.3" height="9.7" fill="#e3e3e3"/>
<rect x="451.10" y="256.20" width="6.3" height="9.7" fill="#e3e3e3"/>
<rect x="459.90" y="256.20" width="6.3" height="9.7" fill="#e3e3e3"/>
<rect x="468.70" y="256.20" width="6.3" height="9.7" fill="#e3e3e3"/>
<rect x="477.50" y="256.20" width="6.3" height="9.7" fill="#e3e3e3"/>
<rect x="486.30" y="256.20" width="6.3" height="9.7" fill="#e3e3e3"/>
<rect x="495.10" y="256.20" width="6.3" height="9.7" fill="#e3e3e3"/>
<rect x="288.00" y="268.20" width="6.3" height="9.7" fill="#e3e3e3"/>
<rect x="296.80" y="268.20" width="6.3" height="9.7" fill="#e3e3e3"/>
<rect x="305.60" y="268.20" width="6.3" height="9.7" fill="#e3e3e3"/>
<rect x="314.40" y="268.20" width="6.3" height="9.7" fill="#e3e3e3"/>
<rect x="323.20" y="268.20" width="6.3" height="9.7" fill="#e3e3e3"/>
<rect x="332.00" y="268.20" width="6.3" height="9.7" fill="#e3e3e3"/>
<rect x="340.80" y="268.20" width="6.3" height="9.7" fill="#e3e3e3"/>
<rect x="349.60" y="268.20" width="6.3" height="9.7" fill="#e3e3e3"/>
<rect x="360.50" y="268.20" width="6.3" height="9.7" fill="#e3e3e3"/>
<rect x="369.40" y="268.20" width="6.3" height="9.7" fill="#e3e3e3"/>
<rect x="378.30" y="268.20" width="6.3" height="9.7" fill="#e3e3e3"/>
<rect x="387.20" y="268.20" width="6.3" height="9.7" fill="#e3e3e3"/>
<rect x="396.10" y="268.20" width="6.3" height="9.7" fill="#e3e3e3"/>
<rect x="405.30" y="268.50" width="5.70" height="9.10" fill="#5a3b16" stroke="rgba(0,0,0,0.22)" stroke-width="0.6"/>
<rect x="413.90" y="268.20" width="6.3" height="9.7" fill="#e3e3e3"/>
<rect x="422.80" y="268.20" width="6.3" height="9.7" fill="#e3e3e3"/>
<rect x="431.70" y="268.20" width="6.3" height="9.7" fill="#e3e3e3"/>
<rect x="442.30" y="268.20" width="6.3" height="9.7" fill="#e3e3e3"/>
<rect x="451.10" y="268.20" width="6.3" height="9.7" fill="#e3e3e3"/>
<rect x="459.90" y="268.20" width="6.3" height="9.7" fill="#e3e3e3"/>
<rect x="468.70" y="268.20" width="6.3" height="9.7" fill="#e3e3e3"/>
<rect x="477.50" y="268.20" width="6.3" height="9.7" fill="#e3e3e3"/>
<rect x="486.30" y="268.20" width="6.3" height="9.7" fill="#e3e3e3"/>
<rect x="495.10" y="268.20" width="6.3" height="9.7" fill="#e3e3e3"/>
<rect x="288.00" y="280.20" width="6.3" height="9.7" fill="#e3e3e3"/>
<rect x="296.80" y="280.20" width="6.3" height="9.7" fill="#e3e3e3"/>
<rect x="305.60" y="280.20" width="6.3" height="9.7" fill="#e3e3e3"/>
<rect x="314.40" y="280.20" width="6.3" height="9.7" fill="#e3e3e3"/>
<rect x="323.20" y="280.20" width="6.3" height="9.7" fill="#e3e3e3"/>
<rect x="332.00" y="280.20" width="6.3" height="9.7" fill="#e3e3e3"/>
<rect x="340.80" y="280.20" width="6.3" height="9.7" fill="#e3e3e3"/>
<rect x="349.60" y="280.20" width="6.3" height="9.7" fill="#e3e3e3"/>
<rect x="360.50" y="280.20" width="6.3" height="9.7" fill="#e3e3e3"/>
<rect x="369.40" y="280.20" width="6.3" height="9.7" fill="#e3e3e3"/>
<rect x="378.60" y="280.50" width="5.70" height="9.10" fill="#c13a3d" stroke="rgba(0,0,0,0.22)" stroke-width="0.6"/>
<rect x="387.20" y="280.20" width="6.3" height="9.7" fill="#e3e3e3"/>
<rect x="396.10" y="280.20" width="6.3" height="9.7" fill="#e3e3e3"/>
<rect x="405.30" y="280.50" width="5.70" height="9.10" fill="#c13a3d" stroke="rgba(0,0,0,0.22)" stroke-width="0.6"/>
<rect x="413.90" y="280.20" width="6.3" height="9.7" fill="#e3e3e3"/>
<rect x="422.80" y="280.20" width="6.3" height="9.7" fill="#e3e3e3"/>
<rect x="431.70" y="280.20" width="6.3" height="9.7" fill="#e3e3e3"/>
<rect x="442.30" y="280.20" width="6.3" height="9.7" fill="#e3e3e3"/>
<rect x="451.10" y="280.20" width="6.3" height="9.7" fill="#e3e3e3"/>
<rect x="459.90" y="280.20" width="6.3" height="9.7" fill="#e3e3e3"/>
<rect x="468.70" y="280.20" width="6.3" height="9.7" fill="#e3e3e3"/>
<rect x="477.50" y="280.20" width="6.3" height="9.7" fill="#e3e3e3"/>
<rect x="486.30" y="280.20" width="6.3" height="9.7" fill="#e3e3e3"/>
<rect x="495.10" y="280.20" width="6.3" height="9.7" fill="#e3e3e3"/>
<rect x="288.00" y="292.20" width="6.3" height="9.7" fill="#e3e3e3"/>
<rect x="296.80" y="292.20" width="6.3" height="9.7" fill="#e3e3e3"/>
<rect x="305.60" y="292.20" width="6.3" height="9.7" fill="#e3e3e3"/>
<rect x="314.40" y="292.20" width="6.3" height="9.7" fill="#e3e3e3"/>
<rect x="323.20" y="292.20" width="6.3" height="9.7" fill="#e3e3e3"/>
<rect x="332.00" y="292.20" width="6.3" height="9.7" fill="#e3e3e3"/>
<rect x="340.80" y="292.20" width="6.3" height="9.7" fill="#e3e3e3"/>
<rect x="349.60" y="292.20" width="6.3" height="9.7" fill="#e3e3e3"/>
<rect x="360.50" y="292.20" width="6.3" height="9.7" fill="#e3e3e3"/>
<rect x="369.40" y="292.20" width="6.3" height="9.7" fill="#e3e3e3"/>
<rect x="378.30" y="292.20" width="6.3" height="9.7" fill="#e3e3e3"/>
<rect x="387.20" y="292.20" width="6.3" height="9.7" fill="#e3e3e3"/>
<rect x="396.10" y="292.20" width="6.3" height="9.7" fill="#e3e3e3"/>
<rect x="405.00" y="292.20" width="6.3" height="9.7" fill="#e3e3e3"/>
<rect x="414.20" y="292.50" width="5.70" height="9.10" fill="#8c83c6" stroke="rgba(0,0,0,0.22)" stroke-width="0.6"/>
<rect x="422.80" y="292.20" width="6.3" height="9.7" fill="#e3e3e3"/>
<rect x="431.70" y="292.20" width="6.3" height="9.7" fill="#e3e3e3"/>
<rect x="442.30" y="292.20" width="6.3" height="9.7" fill="#e3e3e3"/>
<rect x="451.10" y="292.20" width="6.3" height="9.7" fill="#e3e3e3"/>
<rect x="459.90" y="292.20" width="6.3" height="9.7" fill="#e3e3e3"/>
<rect x="468.70" y="292.20" width="6.3" height="9.7" fill="#e3e3e3"/>
<rect x="477.50" y="292.20" width="6.3" height="9.7" fill="#e3e3e3"/>
<rect x="486.30" y="292.20" width="6.3" height="9.7" fill="#e3e3e3"/>
<rect x="495.10" y="292.20" width="6.3" height="9.7" fill="#e3e3e3"/>
<rect x="288.00" y="304.20" width="6.3" height="9.7" fill="#e3e3e3"/>
<rect x="296.80" y="304.20" width="6.3" height="9.7" fill="#e3e3e3"/>
<rect x="305.60" y="304.20" width="6.3" height="9.7" fill="#e3e3e3"/>
<rect x="314.40" y="304.20" width="6.3" height="9.7" fill="#e3e3e3"/>
<rect x="323.20" y="304.20" width="6.3" height="9.7" fill="#e3e3e3"/>
<rect x="332.00" y="304.20" width="6.3" height="9.7" fill="#e3e3e3"/>
<rect x="340.80" y="304.20" width="6.3" height="9.7" fill="#e3e3e3"/>
<rect x="349.60" y="304.20" width="6.3" height="9.7" fill="#e3e3e3"/>
<rect x="360.80" y="304.50" width="5.70" height="9.10" fill="#5a3b16" stroke="rgba(0,0,0,0.22)" stroke-width="0.6"/>
<rect x="369.40" y="304.20" width="6.3" height="9.7" fill="#e3e3e3"/>
<rect x="378.30" y="304.20" width="6.3" height="9.7" fill="#e3e3e3"/>
<rect x="387.20" y="304.20" width="6.3" height="9.7" fill="#e3e3e3"/>
<rect x="396.10" y="304.20" width="6.3" height="9.7" fill="#e3e3e3"/>
<rect x="405.00" y="304.20" width="6.3" height="9.7" fill="#e3e3e3"/>
<rect x="413.90" y="304.20" width="6.3" height="9.7" fill="#e3e3e3"/>
<rect x="422.80" y="304.20" width="6.3" height="9.7" fill="#e3e3e3"/>
<rect x="431.70" y="304.20" width="6.3" height="9.7" fill="#e3e3e3"/>
<rect x="442.30" y="304.20" width="6.3" height="9.7" fill="#e3e3e3"/>
<rect x="451.10" y="304.20" width="6.3" height="9.7" fill="#e3e3e3"/>
<rect x="459.90" y="304.20" width="6.3" height="9.7" fill="#e3e3e3"/>
<rect x="468.70" y="304.20" width="6.3" height="9.7" fill="#e3e3e3"/>
<rect x="477.50" y="304.20" width="6.3" height="9.7" fill="#e3e3e3"/>
<rect x="486.30" y="304.20" width="6.3" height="9.7" fill="#e3e3e3"/>
<rect x="495.10" y="304.20" width="6.3" height="9.7" fill="#e3e3e3"/>
<rect x="288.00" y="316.20" width="6.3" height="9.7" fill="#e3e3e3"/>
<rect x="296.80" y="316.20" width="6.3" height="9.7" fill="#e3e3e3"/>
<rect x="305.60" y="316.20" width="6.3" height="9.7" fill="#e3e3e3"/>
<rect x="314.40" y="316.20" width="6.3" height="9.7" fill="#e3e3e3"/>
<rect x="323.20" y="316.20" width="6.3" height="9.7" fill="#e3e3e3"/>
<rect x="332.00" y="316.20" width="6.3" height="9.7" fill="#e3e3e3"/>
<rect x="340.80" y="316.20" width="6.3" height="9.7" fill="#e3e3e3"/>
<rect x="349.60" y="316.20" width="6.3" height="9.7" fill="#e3e3e3"/>
<rect x="360.50" y="316.20" width="6.3" height="9.7" fill="#e3e3e3"/>
<rect x="369.40" y="316.20" width="6.3" height="9.7" fill="#e3e3e3"/>
<rect x="378.30" y="316.20" width="6.3" height="9.7" fill="#e3e3e3"/>
<rect x="387.20" y="316.20" width="6.3" height="9.7" fill="#e3e3e3"/>
<rect x="396.10" y="316.20" width="6.3" height="9.7" fill="#e3e3e3"/>
<rect x="405.00" y="316.20" width="6.3" height="9.7" fill="#e3e3e3"/>
<rect x="413.90" y="316.20" width="6.3" height="9.7" fill="#e3e3e3"/>
<rect x="422.80" y="316.20" width="6.3" height="9.7" fill="#e3e3e3"/>
<rect x="431.70" y="316.20" width="6.3" height="9.7" fill="#e3e3e3"/>
<rect x="442.30" y="316.20" width="6.3" height="9.7" fill="#e3e3e3"/>
<rect x="451.40" y="316.50" width="5.70" height="9.10" fill="#c8137c" stroke="rgba(0,0,0,0.22)" stroke-width="0.6"/>
<rect x="459.90" y="316.20" width="6.3" height="9.7" fill="#e3e3e3"/>
<rect x="468.70" y="316.20" width="6.3" height="9.7" fill="#e3e3e3"/>
<rect x="477.50" y="316.20" width="6.3" height="9.7" fill="#e3e3e3"/>
<rect x="486.30" y="316.20" width="6.3" height="9.7" fill="#e3e3e3"/>
<rect x="495.10" y="316.20" width="6.3" height="9.7" fill="#e3e3e3"/>
<rect x="288.00" y="328.20" width="6.3" height="9.7" fill="#e3e3e3"/>
<rect x="296.80" y="328.20" width="6.3" height="9.7" fill="#e3e3e3"/>
<rect x="305.60" y="328.20" width="6.3" height="9.7" fill="#e3e3e3"/>
<rect x="314.40" y="328.20" width="6.3" height="9.7" fill="#e3e3e3"/>
<rect x="323.20" y="328.20" width="6.3" height="9.7" fill="#e3e3e3"/>
<rect x="332.00" y="328.20" width="6.3" height="9.7" fill="#e3e3e3"/>
<rect x="340.80" y="328.20" width="6.3" height="9.7" fill="#e3e3e3"/>
<rect x="349.60" y="328.20" width="6.3" height="9.7" fill="#e3e3e3"/>
<rect x="360.50" y="328.20" width="6.3" height="9.7" fill="#e3e3e3"/>
<rect x="369.40" y="328.20" width="6.3" height="9.7" fill="#e3e3e3"/>
<rect x="378.30" y="328.20" width="6.3" height="9.7" fill="#e3e3e3"/>
<rect x="387.20" y="328.20" width="6.3" height="9.7" fill="#e3e3e3"/>
<rect x="396.10" y="328.20" width="6.3" height="9.7" fill="#e3e3e3"/>
<rect x="405.00" y="328.20" width="6.3" height="9.7" fill="#e3e3e3"/>
<rect x="413.90" y="328.20" width="6.3" height="9.7" fill="#e3e3e3"/>
<rect x="422.80" y="328.20" width="6.3" height="9.7" fill="#e3e3e3"/>
<rect x="431.70" y="328.20" width="6.3" height="9.7" fill="#e3e3e3"/>
<rect x="442.60" y="328.50" width="5.70" height="9.10" fill="#5a3b16" stroke="rgba(0,0,0,0.22)" stroke-width="0.6"/>
<rect x="451.10" y="328.20" width="6.3" height="9.7" fill="#e3e3e3"/>
<rect x="459.90" y="328.20" width="6.3" height="9.7" fill="#e3e3e3"/>
<rect x="468.70" y="328.20" width="6.3" height="9.7" fill="#e3e3e3"/>
<rect x="477.50" y="328.20" width="6.3" height="9.7" fill="#e3e3e3"/>
<rect x="486.30" y="328.20" width="6.3" height="9.7" fill="#e3e3e3"/>
<rect x="495.10" y="328.20" width="6.3" height="9.7" fill="#e3e3e3"/>
<rect x="288.00" y="340.20" width="6.3" height="9.7" fill="#e3e3e3"/>
<rect x="296.80" y="340.20" width="6.3" height="9.7" fill="#e3e3e3"/>
<rect x="305.60" y="340.20" width="6.3" height="9.7" fill="#e3e3e3"/>
<rect x="314.40" y="340.20" width="6.3" height="9.7" fill="#e3e3e3"/>
<rect x="323.20" y="340.20" width="6.3" height="9.7" fill="#e3e3e3"/>
<rect x="332.00" y="340.20" width="6.3" height="9.7" fill="#e3e3e3"/>
<rect x="340.80" y="340.20" width="6.3" height="9.7" fill="#e3e3e3"/>
<rect x="349.60" y="340.20" width="6.3" height="9.7" fill="#e3e3e3"/>
<rect x="360.50" y="340.20" width="6.3" height="9.7" fill="#e3e3e3"/>
<rect x="369.40" y="340.20" width="6.3" height="9.7" fill="#e3e3e3"/>
<rect x="378.30" y="340.20" width="6.3" height="9.7" fill="#e3e3e3"/>
<rect x="387.20" y="340.20" width="6.3" height="9.7" fill="#e3e3e3"/>
<rect x="396.10" y="340.20" width="6.3" height="9.7" fill="#e3e3e3"/>
<rect x="405.00" y="340.20" width="6.3" height="9.7" fill="#e3e3e3"/>
<rect x="413.90" y="340.20" width="6.3" height="9.7" fill="#e3e3e3"/>
<rect x="422.80" y="340.20" width="6.3" height="9.7" fill="#e3e3e3"/>
<rect x="431.70" y="340.20" width="6.3" height="9.7" fill="#e3e3e3"/>
<rect x="442.60" y="340.50" width="5.70" height="9.10" fill="#5a3b16" stroke="rgba(0,0,0,0.22)" stroke-width="0.6"/>
<rect x="451.10" y="340.20" width="6.3" height="9.7" fill="#e3e3e3"/>
<rect x="459.90" y="340.20" width="6.3" height="9.7" fill="#e3e3e3"/>
<rect x="468.70" y="340.20" width="6.3" height="9.7" fill="#e3e3e3"/>
<rect x="477.50" y="340.20" width="6.3" height="9.7" fill="#e3e3e3"/>
<rect x="486.30" y="340.20" width="6.3" height="9.7" fill="#e3e3e3"/>
<rect x="495.10" y="340.20" width="6.3" height="9.7" fill="#e3e3e3"/>
<rect x="288.00" y="352.20" width="6.3" height="9.7" fill="#e3e3e3"/>
<rect x="296.80" y="352.20" width="6.3" height="9.7" fill="#e3e3e3"/>
<rect x="305.60" y="352.20" width="6.3" height="9.7" fill="#e3e3e3"/>
<rect x="314.40" y="352.20" width="6.3" height="9.7" fill="#e3e3e3"/>
<rect x="323.20" y="352.20" width="6.3" height="9.7" fill="#e3e3e3"/>
<rect x="332.00" y="352.20" width="6.3" height="9.7" fill="#e3e3e3"/>
<rect x="340.80" y="352.20" width="6.3" height="9.7" fill="#e3e3e3"/>
<rect x="349.60" y="352.20" width="6.3" height="9.7" fill="#e3e3e3"/>
<rect x="360.50" y="352.20" width="6.3" height="9.7" fill="#e3e3e3"/>
<rect x="369.40" y="352.20" width="6.3" height="9.7" fill="#e3e3e3"/>
<rect x="378.30" y="352.20" width="6.3" height="9.7" fill="#e3e3e3"/>
<rect x="387.20" y="352.20" width="6.3" height="9.7" fill="#e3e3e3"/>
<rect x="396.10" y="352.20" width="6.3" height="9.7" fill="#e3e3e3"/>
<rect x="405.00" y="352.20" width="6.3" height="9.7" fill="#e3e3e3"/>
<rect x="413.90" y="352.20" width="6.3" height="9.7" fill="#e3e3e3"/>
<rect x="422.80" y="352.20" width="6.3" height="9.7" fill="#e3e3e3"/>
<rect x="431.70" y="352.20" width="6.3" height="9.7" fill="#e3e3e3"/>
<rect x="442.30" y="352.20" width="6.3" height="9.7" fill="#e3e3e3"/>
<rect x="451.10" y="352.20" width="6.3" height="9.7" fill="#e3e3e3"/>
<rect x="460.20" y="352.50" width="5.70" height="9.10" fill="#254a87" stroke="rgba(0,0,0,0.22)" stroke-width="0.6"/>
<rect x="468.70" y="352.20" width="6.3" height="9.7" fill="#e3e3e3"/>
<rect x="477.50" y="352.20" width="6.3" height="9.7" fill="#e3e3e3"/>
<rect x="486.60" y="352.50" width="5.70" height="9.10" fill="#254a87" stroke="rgba(0,0,0,0.22)" stroke-width="0.6"/>
<rect x="495.10" y="352.20" width="6.3" height="9.7" fill="#e3e3e3"/>
<rect x="288.00" y="364.20" width="6.3" height="9.7" fill="#e3e3e3"/>
<rect x="296.80" y="364.20" width="6.3" height="9.7" fill="#e3e3e3"/>
<rect x="305.60" y="364.20" width="6.3" height="9.7" fill="#e3e3e3"/>
<rect x="314.40" y="364.20" width="6.3" height="9.7" fill="#e3e3e3"/>
<rect x="323.20" y="364.20" width="6.3" height="9.7" fill="#e3e3e3"/>
<rect x="332.00" y="364.20" width="6.3" height="9.7" fill="#e3e3e3"/>
<rect x="340.80" y="364.20" width="6.3" height="9.7" fill="#e3e3e3"/>
<rect x="349.60" y="364.20" width="6.3" height="9.7" fill="#e3e3e3"/>
<rect x="360.50" y="364.20" width="6.3" height="9.7" fill="#e3e3e3"/>
<rect x="369.40" y="364.20" width="6.3" height="9.7" fill="#e3e3e3"/>
<rect x="378.30" y="364.20" width="6.3" height="9.7" fill="#e3e3e3"/>
<rect x="387.20" y="364.20" width="6.3" height="9.7" fill="#e3e3e3"/>
<rect x="396.10" y="364.20" width="6.3" height="9.7" fill="#e3e3e3"/>
<rect x="405.00" y="364.20" width="6.3" height="9.7" fill="#e3e3e3"/>
<rect x="413.90" y="364.20" width="6.3" height="9.7" fill="#e3e3e3"/>
<rect x="422.80" y="364.20" width="6.3" height="9.7" fill="#e3e3e3"/>
<rect x="431.70" y="364.20" width="6.3" height="9.7" fill="#e3e3e3"/>
<rect x="442.30" y="364.20" width="6.3" height="9.7" fill="#e3e3e3"/>
<rect x="451.10" y="364.20" width="6.3" height="9.7" fill="#e3e3e3"/>
<rect x="459.90" y="364.20" width="6.3" height="9.7" fill="#e3e3e3"/>
<rect x="468.70" y="364.20" width="6.3" height="9.7" fill="#e3e3e3"/>
<rect x="477.50" y="364.20" width="6.3" height="9.7" fill="#e3e3e3"/>
<rect x="486.60" y="364.50" width="5.70" height="9.10" fill="#254a87" stroke="rgba(0,0,0,0.22)" stroke-width="0.6"/>
<rect x="495.10" y="364.20" width="6.3" height="9.7" fill="#e3e3e3"/>
<rect x="288.00" y="376.20" width="6.3" height="9.7" fill="#e3e3e3"/>
<rect x="296.80" y="376.20" width="6.3" height="9.7" fill="#e3e3e3"/>
<rect x="305.60" y="376.20" width="6.3" height="9.7" fill="#e3e3e3"/>
<rect x="314.40" y="376.20" width="6.3" height="9.7" fill="#e3e3e3"/>
<rect x="323.20" y="376.20" width="6.3" height="9.7" fill="#e3e3e3"/>
<rect x="332.00" y="376.20" width="6.3" height="9.7" fill="#e3e3e3"/>
<rect x="340.80" y="376.20" width="6.3" height="9.7" fill="#e3e3e3"/>
<rect x="349.60" y="376.20" width="6.3" height="9.7" fill="#e3e3e3"/>
<rect x="360.50" y="376.20" width="6.3" height="9.7" fill="#e3e3e3"/>
<rect x="369.40" y="376.20" width="6.3" height="9.7" fill="#e3e3e3"/>
<rect x="378.30" y="376.20" width="6.3" height="9.7" fill="#e3e3e3"/>
<rect x="387.20" y="376.20" width="6.3" height="9.7" fill="#e3e3e3"/>
<rect x="396.10" y="376.20" width="6.3" height="9.7" fill="#e3e3e3"/>
<rect x="405.00" y="376.20" width="6.3" height="9.7" fill="#e3e3e3"/>
<rect x="413.90" y="376.20" width="6.3" height="9.7" fill="#e3e3e3"/>
<rect x="422.80" y="376.20" width="6.3" height="9.7" fill="#e3e3e3"/>
<rect x="431.70" y="376.20" width="6.3" height="9.7" fill="#e3e3e3"/>
<rect x="442.30" y="376.20" width="6.3" height="9.7" fill="#e3e3e3"/>
<rect x="451.10" y="376.20" width="6.3" height="9.7" fill="#e3e3e3"/>
<rect x="459.90" y="376.20" width="6.3" height="9.7" fill="#e3e3e3"/>
<rect x="468.70" y="376.20" width="6.3" height="9.7" fill="#e3e3e3"/>
<rect x="477.50" y="376.20" width="6.3" height="9.7" fill="#e3e3e3"/>
<rect x="486.60" y="376.50" width="5.70" height="9.10" fill="#254a87" stroke="rgba(0,0,0,0.22)" stroke-width="0.6"/>
<rect x="495.10" y="376.20" width="6.3" height="9.7" fill="#e3e3e3"/>
</g>
<g stroke="#56627e" stroke-width="1.7">
<line x1="357.7" y1="64.5" x2="357.7" y2="387"/>
<line x1="440.2" y1="64.5" x2="440.2" y2="387"/>
</g>
<g font-size="7.6" text-anchor="middle" fill="#333">
<text x="291.15" y="63.7">1</text>
<text x="299.95" y="63.7">2</text>
<text x="308.75" y="63.7">3</text>
<text x="317.55" y="63.7">4</text>
<text x="326.35" y="63.7">5</text>
<text x="335.15" y="63.7">6</text>
<text x="343.95" y="63.7">7</text>
<text x="352.75" y="63.7">8</text>
<text x="363.65" y="63.7">1</text>
<text x="372.55" y="63.7">2</text>
<text x="381.45" y="63.7">3</text>
<text x="390.35" y="63.7">4</text>
<text x="399.25" y="63.7">5</text>
<text x="408.15" y="63.7">6</text>
<text x="417.05" y="63.7">7</text>
<text x="425.95" y="63.7">8</text>
<text x="434.85" y="63.7">9</text>
<text x="445.45" y="63.7">1</text>
<text x="454.25" y="63.7">2</text>
<text x="463.05" y="63.7">3</text>
<text x="471.85" y="63.7">4</text>
<text x="480.65" y="63.7">5</text>
<text x="489.45" y="63.7">6</text>
<text x="498.25" y="63.7">7</text>
</g>
<g font-size="8.5" text-anchor="end" fill="#111" stroke="#111" stroke-width="0.15">
<text x="281.8" y="78.70">chromosome 2</text>
<text x="281.8" y="90.70">chromosome 6</text>
<text x="281.8" y="102.70">chromosome 7</text>
<text x="281.8" y="114.70">chromosome 10</text>
<text x="281.8" y="126.70">chromosome 15</text>
<text x="281.8" y="138.70">chromosome 17</text>
<text x="281.8" y="160.70" font-style="italic">Nras<tspan font-size="6.3" dy="-3.2">G12D</tspan></text>
<text x="281.8" y="172.60" font-style="italic">Flt3<tspan font-size="6.3" dy="-3.2">ITD</tspan></text>
<text x="281.8" y="191.90" font-style="italic">Nras</text>
<text x="281.8" y="203.90" font-style="italic">Ptpn11</text>
<text x="281.8" y="215.90" font-style="italic">Cbl</text>
<text x="281.8" y="227.90" font-style="italic">Dock8</text>
<text x="281.8" y="239.90" font-style="italic">Gucy2</text>
<text x="281.8" y="251.90" font-style="italic">Fat3</text>
<text x="281.8" y="263.90" font-style="italic">Idh1</text>
<text x="281.8" y="275.90" font-style="italic">Ikzf4</text>
<text x="281.8" y="287.90" font-style="italic">Ghr</text>
<text x="281.8" y="299.90" font-style="italic">Ezh2</text>
<text x="281.8" y="311.90" font-style="italic">Mpl</text>
<text x="281.8" y="323.90" font-style="italic">Myo5b</text>
<text x="281.8" y="335.90" font-style="italic">Wac</text>
<text x="281.8" y="347.90" font-style="italic">Pkd1l2</text>
<text x="281.8" y="359.90" font-style="italic">Sfi1</text>
<text x="281.8" y="371.90" font-style="italic">Sh2b3</text>
<text x="281.8" y="383.90" font-style="italic">Crocc</text>
</g>
<g font-size="10.3" font-style="italic" fill="#111" text-anchor="middle">
<text x="322" y="38">Npm1<tspan font-size="6.4" dy="-4.6">cA/+</tspan></text>
<text x="400.5" y="38.2">Npm1<tspan font-size="6.4" dy="-4.6">cA/+</tspan><tspan dy="4.6">;</tspan></text>
<text x="400.5" y="50.3">Nras<tspan font-size="6.4" dy="-4.6">G12D</tspan></text>
<text x="471.5" y="38.2">Npm1<tspan font-size="6.4" dy="-4.6">cA/+</tspan><tspan dy="4.6">;</tspan></text>
<text x="471.5" y="50.3">Flt3<tspan font-size="6.4" dy="-4.6">ITD/+</tspan></text>
</g>
<g font-size="7" fill="#222">
<text x="320.4" y="406.2" text-anchor="middle">aCGH</text>
<text x="320.4" y="414.6" text-anchor="middle">Log2 Ratio</text>
<text x="297.7" y="426" text-anchor="end" font-size="8">0.1</text>
<text x="297.7" y="441.7" text-anchor="end" font-size="8">-0.1</text>
<text x="342.5" y="426" font-size="8">1.0</text>
<text x="342.5" y="441.7" font-size="8">-1.0</text>
</g>
<rect x="302.80" y="419" width="4.5" height="8.3" fill="#f1cfd0"/>
<rect x="302.80" y="434.4" width="4.5" height="8.3" fill="#d6d9e7"/>
<rect x="310.40" y="419" width="4.5" height="8.3" fill="#e1a3a2"/>
<rect x="310.40" y="434.4" width="4.5" height="8.3" fill="#b2b8d4"/>
<rect x="318.00" y="419" width="4.5" height="8.3" fill="#c2167b"/>
<rect x="318.00" y="434.4" width="4.5" height="8.3" fill="#8894bf"/>
<rect x="325.60" y="419" width="4.5" height="8.3" fill="#c54a50"/>
<rect x="325.60" y="434.4" width="4.5" height="8.3" fill="#5c6ba6"/>
<rect x="333.20" y="419" width="4.5" height="8.3" fill="#b10f2e"/>
<rect x="333.20" y="434.4" width="4.5" height="8.3" fill="#304c8f"/>
<rect x="364.2" y="397.30" width="6.2" height="9.6" fill="#6e9f55"/>
<line x1="364.2" y1="397.30" x2="370.4" y2="406.90" stroke="#000" stroke-width="1.4"/>
<text x="378" y="404.60" font-size="6.9" fill="#222">mutant allele duplication/amplification</text>
<rect x="364.2" y="410.50" width="6.2" height="9.6" fill="#68a83d"/>
<text x="378" y="417.80" font-size="6.9" fill="#222">whole or partial chromosomal gain</text>
<rect x="364.2" y="423.70" width="6.2" height="9.6" fill="#a9cf84"/>
<text x="378" y="431.00" font-size="6.9" fill="#222">single copy of mutant allele</text>
<rect x="364.2" y="436.90" width="6.2" height="9.6" fill="#5a3b16"/>
<text x="378" y="444.20" font-size="6.9" fill="#222">SNV/indel</text>
<text x="11.6" y="488.2" font-size="18.3" font-weight="700" fill="#000">B</text>
<text x="167" y="505" font-size="10.3" fill="#2b3f6e" stroke="#2b3f6e" stroke-width="0.45">Nup214 p.G2017fs*134</text>
<text x="301" y="495.8" font-size="10.3" fill="#2b3f6e" stroke="#2b3f6e" stroke-width="0.45">Dock8 p.T29fs*29</text>
<text x="225" y="520" font-size="10.3" fill="#2b3f6e" stroke="#2b3f6e" stroke-width="0.45">Stag1 p.V589I</text>
<text x="300" y="520" font-size="10.3" fill="#a30e3d" stroke="#a30e3d" stroke-width="0.1" font-weight="700">Nras p.Q61H</text>
<text x="140.5" y="532" font-size="10.3" fill="#2b3f6e" stroke="#2b3f6e" stroke-width="0.45">Gucy2c p.V1006I</text>
<text x="348.75" y="529.5" font-size="10.3" fill="#3d5b97" stroke="#3d5b97" stroke-width="0.45">Fat3 p.R3621H</text>
<text x="253" y="540.7" font-size="10.3" fill="#a30e3d" stroke="#a30e3d" stroke-width="0.1" font-weight="700">Ptpn11 p.R498W</text>
<text x="171" y="544" font-size="10.3" fill="#2b3f6e" stroke="#2b3f6e" stroke-width="0.45">Cbl p.S374F</text>
<text x="351.25" y="551" font-size="10.3" fill="#a30e3d" stroke="#a30e3d" stroke-width="0.1" font-weight="700">Ikzf1 p.P244fs*4</text>
<text x="149.5" y="557.5" font-size="10.1" fill="#a30e3d" stroke="#a30e3d" stroke-width="0.1" font-weight="700">Ptpn11 p.S502L</text>
<text x="344.7" y="564" font-size="10.3" fill="#a30e3d" stroke="#a30e3d" stroke-width="0.1" font-weight="700">Nf1 p.R683*</text>
<text x="375" y="575.5" font-size="10.3" fill="#2b3f6e" stroke="#2b3f6e" stroke-width="0.45">Ankrd35 p.R745W</text>
<text x="115.5" y="578.75" font-size="10.3" fill="#2b3f6e" stroke="#2b3f6e" stroke-width="0.45">Bsn p.G3337R</text>
<text x="241" y="586.25" font-size="10.3" fill="#a30e3d" stroke="#a30e3d" stroke-width="0.45">Slit2 p.C502R</text>
<text x="346.25" y="588.4" font-size="10.3" fill="#3d5b97" stroke="#3d5b97" stroke-width="0.45">Hdac2 p.K10N</text>
<text x="162.5" y="592" font-size="10.3" fill="#2b3f6e" stroke="#2b3f6e" stroke-width="0.45">Mga p.V1800G</text>
<text x="281.25" y="598.5" font-size="10.3" fill="#a30e3d" stroke="#a30e3d" stroke-width="0.1" font-weight="700">Nf1 p.W1260*</text>
<text x="199.5" y="602" font-size="10.1" fill="#a30e3d" stroke="#a30e3d" stroke-width="0.1" font-weight="700">Flt3 p.D842G</text>
<text x="248" y="618.5" font-size="10.3" fill="#2b3f6e" stroke="#2b3f6e" stroke-width="0.45">Pcdhb16 p.T611M</text>
<text x="125" y="650.5" font-size="10.2" fill="#a30e3d" stroke="#a30e3d" stroke-width="0.1" font-weight="700">Idh1 p.R132Q</text>
<text x="63.75" y="693.3" font-size="10.3" fill="#3a5896" stroke="#3a5896" stroke-width="0.45">Ptpn11 p.E69K</text>
<text x="163.75" y="705" font-size="10.2" fill="#a30e3d" stroke="#a30e3d" stroke-width="0.1" font-weight="700">Ikzf4 p.P426L</text>
<text x="395.5" y="693" font-size="10.3" fill="#3f5e9a" stroke="#3f5e9a" stroke-width="0.45">Wac p.V541A</text>
<text x="250.3" y="569.4" font-size="12" font-weight="700" font-style="italic" fill="#000">Npm1<tspan font-size="7.6" dy="-4.3">cA/+</tspan></text>
<text x="102.5" y="679.5" font-size="12" font-weight="700" font-style="italic" fill="#000">Npm1<tspan font-size="7.6" dy="-4.3">cA/+</tspan><tspan dy="4.3">; Nras</tspan><tspan font-size="7.6" dy="-4.3">G12D/+</tspan></text>
<text x="378.75" y="679.5" font-size="12" font-weight="700" font-style="italic" fill="#000">Npm1<tspan font-size="7.6" dy="-4.3">cA/+</tspan><tspan dy="4.3">; Flt3</tspan><tspan font-size="7.6" dy="-4.3">ITD/+</tspan></text>
<g font-size="5.2" fill="#363636" stroke="#363636" stroke-width="0.1">
<text x="205.5" y="494.90" textLength="35.80" lengthAdjust="spacingAndGlyphs">Vwa2 p.T822M</text>
<text x="254" y="494.90" textLength="37.30" lengthAdjust="spacingAndGlyphs">Zbtb40 p.G332E</text>
<text x="286" y="502.40" textLength="44.30" lengthAdjust="spacingAndGlyphs">Atm p.E1786ED&gt;D</text>
<text x="286" y="508.40" textLength="59.30" lengthAdjust="spacingAndGlyphs">4931417E11Rik p.A211T</text>
<text x="185" y="512.40" textLength="40.30" lengthAdjust="spacingAndGlyphs">Atp13a4 p.T942M</text>
<text x="235" y="512.40" textLength="45.30" lengthAdjust="spacingAndGlyphs">5430419D17Rik p.T?P</text>
<text x="142.5" y="517.90" textLength="62.30" lengthAdjust="spacingAndGlyphs">1300010F03Rik p.G1730R</text>
<text x="142.5" y="522.90" textLength="37.80" lengthAdjust="spacingAndGlyphs">Epb4.2 p.A258V</text>
<text x="186" y="522.90" textLength="41.30" lengthAdjust="spacingAndGlyphs">Gm4297 p.Y1969C</text>
<text x="310" y="512.40" textLength="29.80" lengthAdjust="spacingAndGlyphs">Kif4 p.V158I</text>
<text x="356" y="513.40" textLength="35.80" lengthAdjust="spacingAndGlyphs">Cd201 p.S87C</text>
<text x="249" y="524.60" textLength="37.10" lengthAdjust="spacingAndGlyphs">Cit8754 p.X94M</text>
<text x="219" y="532.30" textLength="21.90" lengthAdjust="spacingAndGlyphs">Olfr57 p.R57K</text>
<text x="299" y="528.90" textLength="35.05" lengthAdjust="spacingAndGlyphs">Dep p.T1278M</text>
<text x="253" y="531.90" textLength="41.80" lengthAdjust="spacingAndGlyphs">Gm8316 p.K149R</text>
<text x="367.5" y="522.65" textLength="40.30" lengthAdjust="spacingAndGlyphs">Fam38a p.E2049K/690</text>
<text x="384.4" y="532.70" textLength="43.60" lengthAdjust="spacingAndGlyphs">Map3k19 p.A1064fs*24</text>
<text x="340" y="535.65" textLength="20.30" lengthAdjust="spacingAndGlyphs">Rabac1 p.Q52R</text>
<text x="333.75" y="540.65" textLength="33.55" lengthAdjust="spacingAndGlyphs">Spata18c p.K14R</text>
<text x="383.8" y="541.90" textLength="36.90" lengthAdjust="spacingAndGlyphs">Cldn34 p.N278T</text>
<text x="131" y="542.90" textLength="33.05" lengthAdjust="spacingAndGlyphs">Igsf1 p.V411M</text>
<text x="140" y="550.65" textLength="36.30" lengthAdjust="spacingAndGlyphs">Speedlb p.H48I</text>
<text x="122" y="560.65" textLength="25.80" lengthAdjust="spacingAndGlyphs">Kl p.V190G</text>
<text x="225" y="550.90" textLength="47.80" lengthAdjust="spacingAndGlyphs">AC127347.1 p.R80H</text>
<text x="293" y="551.40" textLength="41.05" lengthAdjust="spacingAndGlyphs">Zfp85 p.K320R</text>
<text x="232.5" y="556.90" textLength="35.30" lengthAdjust="spacingAndGlyphs">Gldn p.D329G</text>
<text x="275" y="556.90" textLength="36.30" lengthAdjust="spacingAndGlyphs">Cd207 p.D138V</text>
<text x="166" y="562.90" textLength="35.30" lengthAdjust="spacingAndGlyphs">Kdm6b p.Q962*</text>
<text x="122.5" y="569.90" textLength="32.80" lengthAdjust="spacingAndGlyphs">Bcl9l p.G312D</text>
<text x="168.75" y="569.90" textLength="40.30" lengthAdjust="spacingAndGlyphs">Arhgap20 p.R26L</text>
<text x="327.5" y="560.60" textLength="37.80" lengthAdjust="spacingAndGlyphs">Pld1l1 p.I84T</text>
<text x="391.25" y="559.60" textLength="26.55" lengthAdjust="spacingAndGlyphs">Ctnna3 p.N272K</text>
<text x="215.5" y="574.90" textLength="40.80" lengthAdjust="spacingAndGlyphs">Xaf1 p.R134fs*17</text>
<text x="209.5" y="578.70" textLength="72.80" lengthAdjust="spacingAndGlyphs">Coil83 p.P1K9 Dnah1 p.F87H</text>
<text x="282" y="588.90" textLength="36.80" lengthAdjust="spacingAndGlyphs">Mgrn1 p.R1261G</text>
<text x="196.7" y="595.50" textLength="32.10" lengthAdjust="spacingAndGlyphs">Kif3c p.R504L</text>
<text x="310" y="577.65" textLength="35.30" lengthAdjust="spacingAndGlyphs">Mtmr2 p.R821H</text>
<text x="340.5" y="573.15" textLength="28.55" lengthAdjust="spacingAndGlyphs">Irgm p.V328I</text>
<text x="318.75" y="582.40" textLength="31.55" lengthAdjust="spacingAndGlyphs">Zfp111 Exon2+1</text>
<text x="353.75" y="580.65" textLength="34.55" lengthAdjust="spacingAndGlyphs">M10036 p.R48</text>
<text x="396.25" y="580.65" textLength="38.55" lengthAdjust="spacingAndGlyphs">Fat4 p.T8433M</text>
<text x="168" y="583.15" textLength="33.30" lengthAdjust="spacingAndGlyphs">Fdft1 p.R165C</text>
<text x="131" y="585.65" textLength="33.05" lengthAdjust="spacingAndGlyphs">Klf3c p.R604L</text>
<text x="233.8" y="588.90" textLength="37.50" lengthAdjust="spacingAndGlyphs">Capza2 p.Q91P</text>
<text x="353.5" y="593.20" textLength="32.80" lengthAdjust="spacingAndGlyphs">Pnma7 p.I158S</text>
<text x="346" y="597.40" textLength="34.30" lengthAdjust="spacingAndGlyphs">Kri34 p.S327K</text>
<text x="337" y="602.90" textLength="39.80" lengthAdjust="spacingAndGlyphs">Rasa3 Exon14+2</text>
<text x="153" y="603.15" textLength="31.05" lengthAdjust="spacingAndGlyphs">Spry2 p.V61E</text>
<text x="197" y="606.90" textLength="35.80" lengthAdjust="spacingAndGlyphs">Casein p.A854V</text>
<text x="232.5" y="609.40" textLength="26.55" lengthAdjust="spacingAndGlyphs">Ptprs p.T489</text>
<text x="252.5" y="607.90" textLength="36.80" lengthAdjust="spacingAndGlyphs">Col4a19 p.A62T</text>
<text x="291.25" y="607.40" textLength="41.55" lengthAdjust="spacingAndGlyphs">Vmn1r113 p.S143C</text>
<text x="336.25" y="609.90" textLength="36.55" lengthAdjust="spacingAndGlyphs">Plxdc1 p.D960N</text>
<text x="200.6" y="617.70" textLength="41.70" lengthAdjust="spacingAndGlyphs">Gm6422 p.M266V</text>
<text x="102.5" y="633.90" textLength="39.05" lengthAdjust="spacingAndGlyphs">Serpinb1 p.N83K</text>
<text x="153" y="633.90" textLength="35.30" lengthAdjust="spacingAndGlyphs">Pik4a2a p.V148I</text>
<text x="74.5" y="640.65" textLength="33.30" lengthAdjust="spacingAndGlyphs">Nat1 p.G514S</text>
<text x="115" y="640.65" textLength="39.80" lengthAdjust="spacingAndGlyphs">Cdc30 p.D301G</text>
<text x="162" y="640.65" textLength="37.05" lengthAdjust="spacingAndGlyphs">Ube2e p.C114S</text>
<text x="23.75" y="646.40" textLength="59.55" lengthAdjust="spacingAndGlyphs">6430527G18Rik p.N601K</text>
<text x="86.25" y="646.40" textLength="39.05" lengthAdjust="spacingAndGlyphs">Zdhhc4 p.R313W</text>
<text x="192.5" y="651.40" textLength="25.30" lengthAdjust="spacingAndGlyphs">Sc5d p.R126L</text>
<text x="51.25" y="654.40" textLength="25.30" lengthAdjust="spacingAndGlyphs">Ptpru p.L72V</text>
<text x="79.5" y="653.15" textLength="36.30" lengthAdjust="spacingAndGlyphs">Upf2 p.E1041K</text>
<text x="210" y="654.90" textLength="34.80" lengthAdjust="spacingAndGlyphs">Pfas2 p.H1777Y</text>
<text x="123.75" y="657.40" textLength="29.05" lengthAdjust="spacingAndGlyphs">Efhc1 p.P141S</text>
<text x="167" y="656.90" textLength="37.05" lengthAdjust="spacingAndGlyphs">Cd300b p.W149</text>
<text x="54.5" y="661.90" textLength="33.30" lengthAdjust="spacingAndGlyphs">Espn p.T134P</text>
<text x="96.25" y="661.90" textLength="32.80" lengthAdjust="spacingAndGlyphs">Nat1 p.G514S</text>
<text x="150" y="660.65" textLength="22.80" lengthAdjust="spacingAndGlyphs">Rgs1 p.V35I</text>
<text x="187" y="661.40" textLength="35.80" lengthAdjust="spacingAndGlyphs">Col6a2 p.P468L</text>
<text x="147" y="664.90" textLength="25.80" lengthAdjust="spacingAndGlyphs">Cpsf1 p.V40I</text>
<text x="175" y="668.15" textLength="35.30" lengthAdjust="spacingAndGlyphs">Pde4db p.R479Q</text>
<text x="34.5" y="668.65" textLength="38.30" lengthAdjust="spacingAndGlyphs">Mcph1 p.E494K</text>
<text x="73.75" y="668.65" textLength="39.05" lengthAdjust="spacingAndGlyphs">Spata2l p.P369S</text>
<text x="113.75" y="668.65" textLength="31.55" lengthAdjust="spacingAndGlyphs">Fcrl1 p.T128N</text>
<text x="223.75" y="668.90" textLength="42.80" lengthAdjust="spacingAndGlyphs">Col24a1 p.L1463P</text>
<text x="236.25" y="674.90" textLength="35.30" lengthAdjust="spacingAndGlyphs">Trpc1 p.R314Q</text>
<text x="233.75" y="682.40" textLength="46.55" lengthAdjust="spacingAndGlyphs">4933409K07Rik p.D430N</text>
<text x="34.5" y="684.40" textLength="42.05" lengthAdjust="spacingAndGlyphs">Map4k5p3 p.R42H</text>
<text x="136.7" y="684.60" textLength="39.60" lengthAdjust="spacingAndGlyphs">Gm7035 p.R10S</text>
<text x="204.5" y="685.65" textLength="55.80" lengthAdjust="spacingAndGlyphs">Serpinb6e p.S24fs*43</text>
<text x="154" y="688.10" textLength="44.60" lengthAdjust="spacingAndGlyphs">Cd300lb p.S104L</text>
<text x="149.2" y="693.40" textLength="72.40" lengthAdjust="spacingAndGlyphs">Mrs2d p.V224E Ddh1 p.T741P</text>
<text x="174" y="697.70" textLength="37.10" lengthAdjust="spacingAndGlyphs">Nrp1 p.L770fs*3</text>
<text x="120" y="697.40" textLength="40.30" lengthAdjust="spacingAndGlyphs">Nup p.K201fs*33</text>
<text x="67.5" y="698.40" textLength="25.30" lengthAdjust="spacingAndGlyphs">Esfsso p.V60I</text>
<text x="87" y="687.30" textLength="41.30" lengthAdjust="spacingAndGlyphs">Ush2a p.G1058S</text>
<text x="215" y="698.15" textLength="26.55" lengthAdjust="spacingAndGlyphs">Slc6a7 p.T771P</text>
<text x="103" y="702.70" textLength="50.30" lengthAdjust="spacingAndGlyphs">Tmem184 p.G39fs*43</text>
<text x="41.25" y="703.15" textLength="40.30" lengthAdjust="spacingAndGlyphs">Gm8723 p.G41A</text>
<text x="88" y="707.50" textLength="68.30" lengthAdjust="spacingAndGlyphs">F13a1 p.G411A Grb1 p.V23M</text>
<text x="156.7" y="711.50" textLength="29.20" lengthAdjust="spacingAndGlyphs">Il2 p.V234G</text>
<text x="195.2" y="711.50" textLength="39.70" lengthAdjust="spacingAndGlyphs">Akap9 p.G3302A</text>
<text x="74.5" y="712.40" textLength="43.30" lengthAdjust="spacingAndGlyphs">Adamts2 p.R1017*</text>
<text x="374.5" y="658.90" textLength="33.30" lengthAdjust="spacingAndGlyphs">Smek1 p.V8G</text>
<text x="353.75" y="664.40" textLength="39.05" lengthAdjust="spacingAndGlyphs">Hmha1 p.R706H</text>
<text x="418" y="657.40" textLength="33.55" lengthAdjust="spacingAndGlyphs">Elf4a3 p.D22G</text>
<text x="415" y="667.40" textLength="36.55" lengthAdjust="spacingAndGlyphs">Prl8a6 p.T106M</text>
<text x="458.75" y="664.40" textLength="39.05" lengthAdjust="spacingAndGlyphs">Tmem82 p.P81S</text>
<text x="343" y="683.90" textLength="29.80" lengthAdjust="spacingAndGlyphs">Corl p.W84*</text>
<text x="366.25" y="687.40" textLength="27.80" lengthAdjust="spacingAndGlyphs">Myo3 p.V94I</text>
<text x="475.5" y="683.90" textLength="33.55" lengthAdjust="spacingAndGlyphs">Lrfbb p.R170Q</text>
<text x="410" y="687.40" textLength="30.30" lengthAdjust="spacingAndGlyphs">Grin2a p.R515C</text>
<text x="446.25" y="687.40" textLength="30.30" lengthAdjust="spacingAndGlyphs">Gp158 p.V580I</text>
<text x="351.25" y="693.90" textLength="34.05" lengthAdjust="spacingAndGlyphs">Nrp4d p.I299L</text>
<text x="444.5" y="694.90" textLength="43.30" lengthAdjust="spacingAndGlyphs">Ccdc27e p.I1554V</text>
<text x="381.25" y="700.65" textLength="41.05" lengthAdjust="spacingAndGlyphs">Ptpn12 p.N68fs*3</text>
<text x="436.25" y="702.40" textLength="34.05" lengthAdjust="spacingAndGlyphs">Cdc7 p.N160K</text>
</g>
<rect x="1" y="1" width="518" height="723" fill="none" stroke="#000" stroke-width="2"/>
</svg></body></html>
